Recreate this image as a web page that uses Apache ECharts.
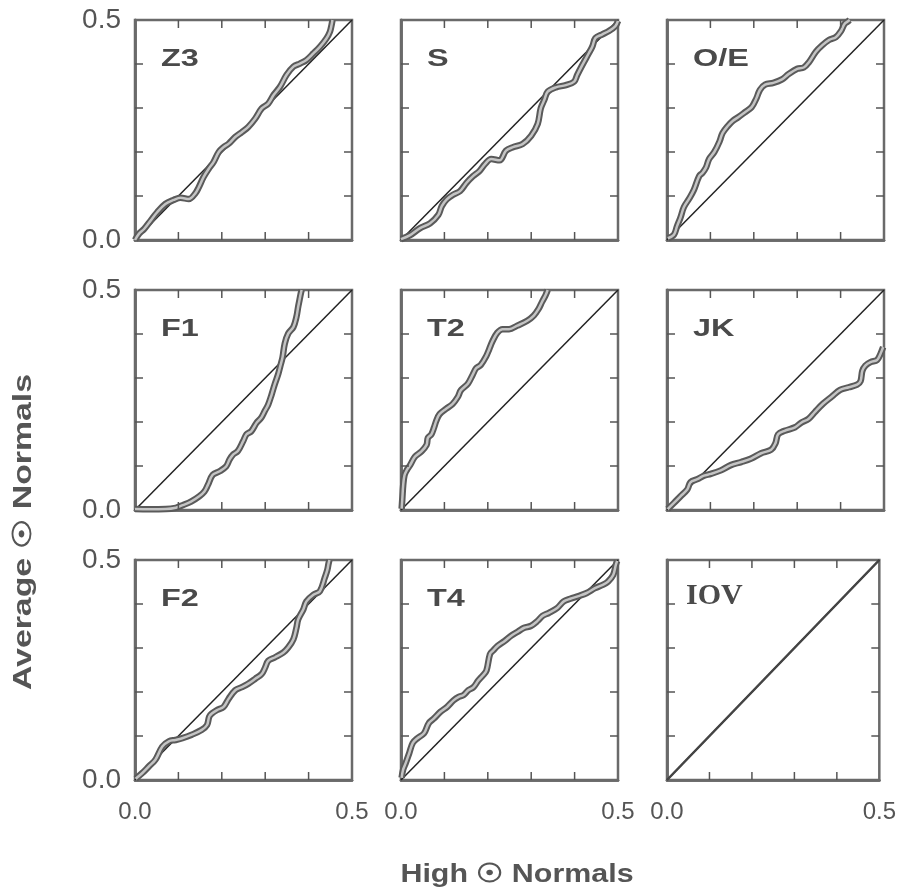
<!DOCTYPE html>
<html><head><meta charset="utf-8">
<script src="https://cdn.jsdelivr.net/npm/echarts@6/dist/echarts.min.js"></script>
<style>html,body{margin:0;padding:0;background:#fff}#c{width:899px;height:893px}</style>
</head><body><div id="c"></div>
<script>
// Panel names (row-major)
const panelNames = ['Z3','S','O/E','F1','T2','JK','F2','T4','IOV'];
// Axis tick labels and interior tick positions
const tickLabels = ['0.0','0.5'];
const tickVals = [0.1, 0.2, 0.3, 0.4];
// Reference diagonal
const diag = [[0,0],[0.5,0.5]];
// Curves [High, Average]
const z3 = [[0,0],[0.009,0.014],[0.021,0.025],[0.036,0.044],[0.051,0.063],[0.070,0.082],[0.089,0.091],[0.105,0.096],[0.124,0.093],[0.139,0.106],[0.147,0.120],[0.158,0.143],[0.170,0.162],[0.181,0.177],[0.193,0.200],[0.204,0.211],[0.216,0.219],[0.231,0.234],[0.246,0.245],[0.261,0.257],[0.277,0.276],[0.292,0.299],[0.307,0.310],[0.319,0.329],[0.334,0.348],[0.349,0.375],[0.365,0.394],[0.380,0.401],[0.395,0.409],[0.411,0.424],[0.426,0.439],[0.441,0.458],[0.449,0.473],[0.453,0.489],[0.455,0.5]];
const s = [[0,0.002],[0.021,0.011],[0.044,0.027],[0.067,0.038],[0.086,0.057],[0.094,0.077],[0.105,0.092],[0.120,0.103],[0.136,0.111],[0.151,0.130],[0.166,0.145],[0.181,0.157],[0.193,0.172],[0.208,0.184],[0.227,0.181],[0.242,0.203],[0.258,0.211],[0.280,0.218],[0.300,0.237],[0.315,0.264],[0.322,0.299],[0.330,0.318],[0.338,0.337],[0.357,0.347],[0.380,0.352],[0.399,0.360],[0.406,0.375],[0.418,0.398],[0.433,0.425],[0.441,0.440],[0.448,0.459],[0.463,0.467],[0.479,0.475],[0.494,0.486],[0.5,0.498]];
const oe = [[0.002,0.004],[0.016,0.012],[0.023,0.031],[0.031,0.051],[0.039,0.075],[0.051,0.094],[0.062,0.114],[0.074,0.145],[0.082,0.153],[0.090,0.165],[0.097,0.184],[0.109,0.200],[0.121,0.224],[0.128,0.243],[0.140,0.259],[0.152,0.271],[0.164,0.279],[0.179,0.290],[0.195,0.302],[0.206,0.322],[0.214,0.341],[0.226,0.353],[0.245,0.357],[0.265,0.365],[0.280,0.377],[0.300,0.389],[0.315,0.392],[0.327,0.404],[0.343,0.428],[0.358,0.443],[0.374,0.455],[0.389,0.461],[0.401,0.475],[0.409,0.491],[0.417,0.497],[0.421,0.5]];
const f1 = [[0,0.002],[0.032,0.0015],[0.071,0.002],[0.094,0.005],[0.110,0.011],[0.129,0.019],[0.148,0.031],[0.160,0.042],[0.168,0.057],[0.179,0.080],[0.195,0.088],[0.210,0.099],[0.218,0.115],[0.226,0.126],[0.237,0.134],[0.249,0.156],[0.257,0.172],[0.268,0.179],[0.280,0.198],[0.291,0.210],[0.299,0.225],[0.307,0.240],[0.315,0.263],[0.322,0.286],[0.330,0.309],[0.335,0.328],[0.340,0.347],[0.345,0.378],[0.353,0.401],[0.365,0.416],[0.372,0.439],[0.376,0.462],[0.379,0.477],[0.382,0.492],[0.384,0.5]];
const t2 = [[0.0015,0.003],[0.003,0.025],[0.005,0.056],[0.008,0.079],[0.013,0.090],[0.021,0.102],[0.032,0.121],[0.047,0.133],[0.059,0.148],[0.062,0.164],[0.070,0.172],[0.076,0.187],[0.081,0.202],[0.089,0.218],[0.104,0.230],[0.119,0.241],[0.131,0.257],[0.138,0.272],[0.154,0.287],[0.165,0.307],[0.173,0.322],[0.184,0.330],[0.196,0.349],[0.203,0.365],[0.211,0.384],[0.222,0.403],[0.234,0.411],[0.249,0.411],[0.268,0.419],[0.291,0.430],[0.306,0.442],[0.317,0.457],[0.325,0.473],[0.333,0.488],[0.338,0.5]];
const jk = [[0.0015,0.002],[0.016,0.016],[0.031,0.031],[0.047,0.047],[0.054,0.063],[0.070,0.070],[0.085,0.078],[0.101,0.082],[0.124,0.090],[0.147,0.102],[0.171,0.109],[0.194,0.117],[0.217,0.129],[0.240,0.137],[0.250,0.152],[0.256,0.172],[0.271,0.180],[0.295,0.188],[0.310,0.199],[0.326,0.207],[0.341,0.223],[0.360,0.242],[0.380,0.258],[0.399,0.273],[0.419,0.279],[0.438,0.285],[0.446,0.293],[0.450,0.316],[0.457,0.328],[0.469,0.336],[0.484,0.341],[0.492,0.355],[0.498,0.370]];
const f2 = [[0.0015,0.003],[0.017,0.016],[0.032,0.031],[0.047,0.046],[0.063,0.076],[0.078,0.088],[0.093,0.091],[0.109,0.095],[0.131,0.103],[0.154,0.114],[0.166,0.125],[0.171,0.144],[0.177,0.151],[0.189,0.159],[0.204,0.166],[0.216,0.185],[0.231,0.204],[0.246,0.211],[0.261,0.219],[0.277,0.230],[0.292,0.241],[0.300,0.256],[0.307,0.271],[0.323,0.279],[0.342,0.290],[0.353,0.301],[0.365,0.320],[0.372,0.346],[0.376,0.365],[0.388,0.388],[0.395,0.406],[0.411,0.421],[0.426,0.429],[0.437,0.459],[0.443,0.477],[0.446,0.492],[0.448,0.5]];
const t4 = [[0.0015,0.005],[0.005,0.024],[0.011,0.039],[0.019,0.061],[0.027,0.084],[0.038,0.095],[0.053,0.106],[0.064,0.129],[0.076,0.140],[0.091,0.155],[0.106,0.166],[0.121,0.181],[0.133,0.189],[0.144,0.193],[0.155,0.204],[0.167,0.211],[0.178,0.226],[0.189,0.238],[0.197,0.249],[0.205,0.286],[0.212,0.294],[0.223,0.305],[0.239,0.316],[0.254,0.328],[0.269,0.337],[0.284,0.346],[0.299,0.350],[0.314,0.361],[0.326,0.373],[0.341,0.380],[0.360,0.391],[0.375,0.406],[0.390,0.412],[0.409,0.418],[0.428,0.425],[0.447,0.436],[0.466,0.444],[0.477,0.451],[0.489,0.466],[0.495,0.489],[0.498,0.498]];
const iov = [[0,0],[0.5,0.5]];
const curves = [z3, s, oe, f1, t2, jk, f2, t4, iov];

const gridLefts = [135, 401, 667];
const gridTops = [20, 290, 560];
const W = 217, H = 220;
const FONT = '"Liberation Sans", Arial, sans-serif';
const TICK_LEN = 8;

const grids = [], xAxes = [], yAxes = [], series = [], graphics = [];
function fmt(v){ if (Math.abs(v) < 1e-9) return tickLabels[0]; if (Math.abs(v-0.5) < 1e-9) return tickLabels[1]; return ''; }
function axisBase(i){
  return {type:'value', gridIndex:i, min:0, max:0.5, interval:0.1, splitLine:{show:false},
    axisLine:{show:true, lineStyle:{color:'#6a6a6a', width:2.5}},
    axisTick:{show:false}};
}
function renderTicks(params, api){
  const v = api.value(0);
  const b = api.coord([v, 0]), t = api.coord([v, 0.5]), l = api.coord([0, v]), r = api.coord([0.5, v]);
  const st = {stroke:'#555', lineWidth:1.5};
  return {type:'group', children:[
    {type:'line', shape:{x1:b[0], y1:b[1], x2:b[0], y2:b[1]-TICK_LEN}, style:st},
    {type:'line', shape:{x1:t[0], y1:t[1], x2:t[0], y2:t[1]+TICK_LEN}, style:st},
    {type:'line', shape:{x1:l[0], y1:l[1], x2:l[0]+TICK_LEN, y2:l[1]}, style:st},
    {type:'line', shape:{x1:r[0], y1:r[1], x2:r[0]-TICK_LEN, y2:r[1]}, style:st}
  ]};
}
for (let i = 0; i < 9; i++) {
  const r = Math.floor(i/3), c = i%3;
  grids.push({left: gridLefts[c], top: gridTops[r], width: W, height: H, show: true, borderColor: '#6a6a6a', borderWidth: 2.5, backgroundColor: 'transparent'});
  xAxes.push(Object.assign(axisBase(i), {position:'bottom', axisLabel:{show: r===2, formatter: fmt, margin: 20, fontSize: 24, color:'#555', fontFamily: FONT, showMinLabel:true, showMaxLabel:true}}));
  xAxes.push(Object.assign(axisBase(i), {position:'top', axisLabel:{show:false}}));
  yAxes.push(Object.assign(axisBase(i), {position:'left', axisLabel:{show: c===0, formatter: fmt, margin: 14, fontSize: 28, color:'#555', fontFamily: FONT, showMinLabel:true, showMaxLabel:true}}));
  yAxes.push(Object.assign(axisBase(i), {position:'right', axisLabel:{show:false}}));
  series.push({type:'custom', xAxisIndex:2*i, yAxisIndex:2*i, data: tickVals.map(v => [v, v]), encode:{x:0, y:1}, renderItem: renderTicks, clip:false, silent:true, z:5});
  series.push({type:'line', xAxisIndex:2*i, yAxisIndex:2*i, data: diag, showSymbol:false, lineStyle:{color:'#222', width:1.5}, silent:true, z:2});
  if (panelNames[i] !== 'IOV') {
    series.push({type:'line', xAxisIndex:2*i, yAxisIndex:2*i, data: curves[i], showSymbol:false, smooth:0.35, lineStyle:{color:'#5a5a5a', width:6.5}, silent:true, z:3});
    series.push({type:'line', xAxisIndex:2*i, yAxisIndex:2*i, data: curves[i], showSymbol:false, smooth:0.35, lineStyle:{color:'#c4c4c4', width:2.5}, silent:true, z:4});
  } else {
    series.push({type:'line', xAxisIndex:2*i, yAxisIndex:2*i, data: curves[i], showSymbol:false, lineStyle:{color:'#444', width:2.5}, silent:true, z:3});
  }
  const isIOV = panelNames[i]==='IOV';
  graphics.push({type:'text', x: gridLefts[c] + (isIOV ? 19 : 26), y: gridTops[r] + (isIOV ? 21 : 27), scaleX: isIOV ? 1.0 : 1.35,
    style:{text: panelNames[i], fontSize: isIOV ? 30 : 24, fontWeight:'bold', fill:'#4a4a4a',
      fontFamily: isIOV ? '"Liberation Serif", serif' : FONT}});
}
graphics.push({type:'text', x: 517, y: 875, scaleX: 1.17, style:{text:'High \u2609 Normals', fontSize:26, fontWeight:'bold', fill:'#555', fontFamily: FONT, textAlign:'center', textVerticalAlign:'middle'}});
graphics.push({type:'text', x: 24, y: 532, scaleX: 1.3, rotation: Math.PI/2, style:{text:'Average \u2609 Normals', fontSize:26, fontWeight:'bold', fill:'#555', fontFamily: FONT, textAlign:'center', textVerticalAlign:'middle'}});

const chart = echarts.init(document.getElementById('c'), null, {renderer:'canvas'});
chart.setOption({animation:false, grid: grids, xAxis: xAxes, yAxis: yAxes, series: series, graphic: graphics});
</script></body></html>
